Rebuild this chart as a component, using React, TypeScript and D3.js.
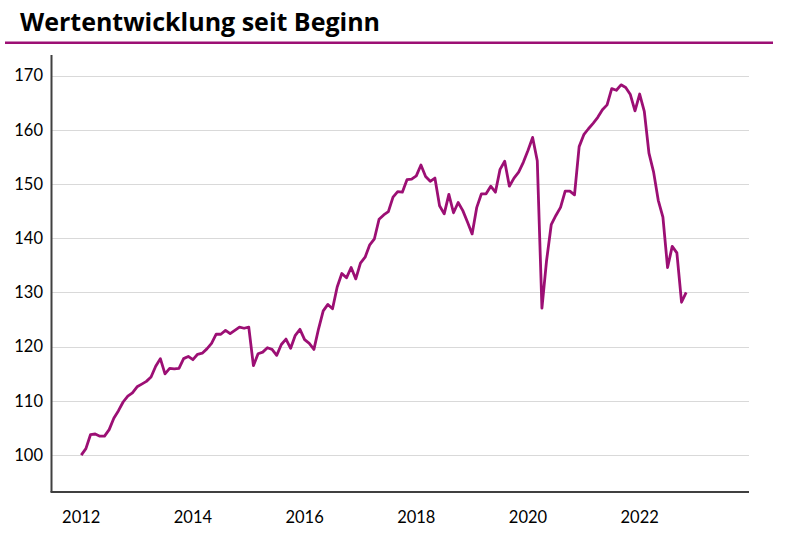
import React from "react";
import * as d3 from "d3";

const title = "Wertentwicklung seit Beginn";
const startYear = 2012;
const v2012 = [100.0, 101.2, 103.8, 103.9, 103.5, 103.5, 104.7, 106.8, 108.2, 109.8, 110.9, 111.5];
const v2013 = [112.6, 113.1, 113.6, 114.4, 116.4, 117.8, 115.0, 116.0, 115.9, 116.0, 117.8, 118.2];
const v2014 = [117.6, 118.6, 118.8, 119.6, 120.6, 122.3, 122.3, 123.0, 122.4, 123.0, 123.6, 123.4];
const v2015 = [123.6, 116.5, 118.7, 119.0, 119.8, 119.5, 118.4, 120.4, 121.4, 119.7, 122.1, 123.2];
const v2016 = [121.3, 120.6, 119.5, 123.3, 126.6, 127.8, 127.0, 131.0, 133.5, 132.7, 134.6, 132.5];
const v2017 = [135.4, 136.5, 138.8, 139.9, 143.5, 144.3, 144.9, 147.6, 148.6, 148.5, 150.8, 150.9];
const v2018 = [151.5, 153.5, 151.4, 150.5, 151.1, 146.0, 144.5, 148.1, 144.7, 146.6, 145.1, 143.0];
const v2019 = [140.8, 145.7, 148.2, 148.2, 149.6, 148.5, 152.7, 154.2, 149.6, 151.1, 152.2, 154.0];
const v2020 = [156.2, 158.6, 154.3, 127.1, 135.9, 142.5, 144.2, 145.7, 148.7, 148.7, 148.0, 156.9];
const v2021 = [159.1, 160.2, 161.2, 162.3, 163.7, 164.6, 167.6, 167.3, 168.3, 167.8, 166.5, 163.5];
const v2022 = [166.6, 163.4, 155.7, 152.2, 147.0, 143.9, 134.6, 138.5, 137.3, 128.2, 130.0];

const yTicks = [100, 110, 120, 130, 140, 150, 160, 170];
const xTickYears = [2012, 2014, 2016, 2018, 2020, 2022];

const values = [...v2012, ...v2013, ...v2014, ...v2015, ...v2016, ...v2017, ...v2018, ...v2019, ...v2020, ...v2021, ...v2022];

const COLOR = "#9C0F74";
const FONT = "Lato, 'Open Sans', sans-serif";

export default function App() {
  const x = d3.scaleLinear().domain([-6.5, 143.5]).range([51, 749]);
  const y = d3.scaleLinear().domain([93.2, 173.8]).range([492, 55]);
  const line = d3
    .line<number>()
    .x((_, i) => x(i))
    .y((d) => y(d));

  return (
    <svg width={788} height={544} style={{ position: "absolute", left: 0, top: 0, background: "#fff" }}>
      <text x={20} y={31} fontFamily="'Open Sans', sans-serif" fontWeight={700} fontSize={25} fill="#000">
        {title}
      </text>
      <line x1={5} x2={773} y1={42.8} y2={42.8} stroke={COLOR} strokeWidth={2.6} />
      {yTicks.map((t) => (
        <g key={t}>
          <line x1={51} x2={749} y1={Math.round(y(t)) + 0.5} y2={Math.round(y(t)) + 0.5} stroke="#d9d9d9" strokeWidth={1} />
          <text x={43} y={y(t)} dy="0.35em" textAnchor="end" fontFamily={FONT} fontSize={16.5} fill="#000">
            {t}
          </text>
        </g>
      ))}
      {xTickYears.map((yr) => (
        <text key={yr} x={x((yr - startYear) * 12)} y={523} textAnchor="middle" fontFamily={FONT} fontSize={16.5} fill="#000">
          {yr}
        </text>
      ))}
      <line x1={51.5} x2={51.5} y1={55} y2={492} stroke="#404040" strokeWidth={2} />
      <line x1={50.5} x2={749} y1={492} y2={492} stroke="#404040" strokeWidth={2} />
      <path d={line(values) || ""} fill="none" stroke={COLOR} strokeWidth={2.8} strokeLinejoin="round" />
    </svg>
  );
}
